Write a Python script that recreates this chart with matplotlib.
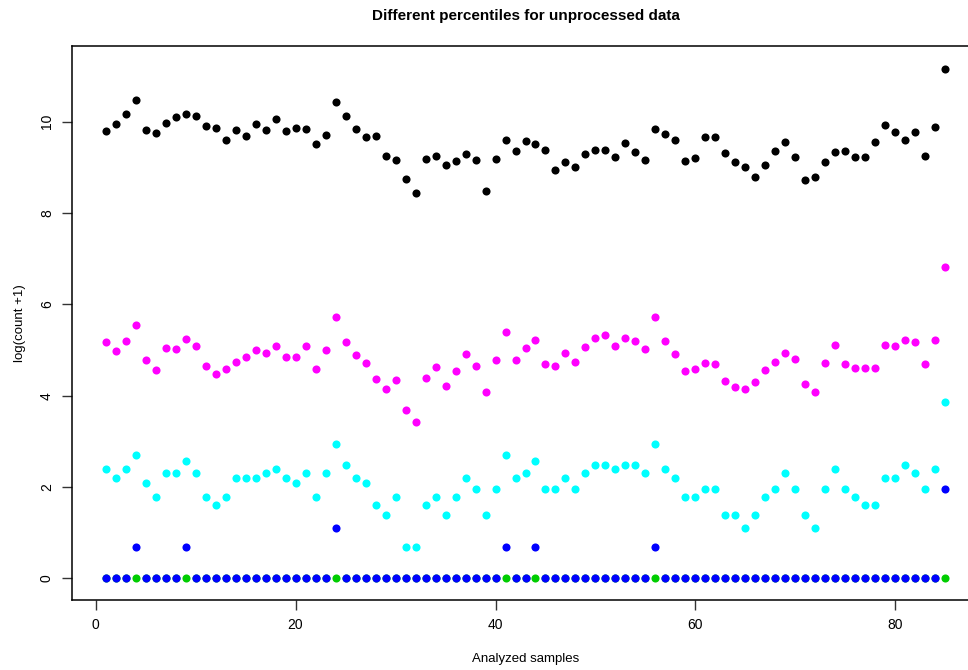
import numpy as np
import matplotlib
matplotlib.use("Agg")
import matplotlib.pyplot as plt

plt.rcParams['font.family'] = ['Liberation Sans', 'DejaVu Sans']

samples = np.arange(1, 86)

p_max = [9.80, 9.95, 10.17, 10.47, 9.82, 9.75, 9.97, 10.10, 10.17, 10.12,
         9.90, 9.87, 9.60, 9.83, 9.69, 9.95, 9.82, 10.06, 9.80, 9.87,
         9.85, 9.51, 9.72, 10.43, 10.12, 9.85, 9.66, 9.69, 9.25, 9.16,
         8.75, 8.44, 9.18, 9.25, 9.05, 9.14, 9.29, 9.16, 8.48, 9.18,
         9.60, 9.36, 9.58, 9.51, 9.39, 8.95, 9.12, 9.02, 9.29, 9.39,
         9.39, 9.23, 9.53, 9.34, 9.16, 9.85, 9.73, 9.61, 9.14, 9.21,
         9.67, 9.67, 9.31, 9.12, 9.01, 8.79, 9.05, 9.37, 9.56, 9.23,
         8.72, 8.79, 9.12, 9.34, 9.37, 9.23, 9.23, 9.56, 9.93, 9.77,
         9.60, 9.77, 9.25, 9.88, 11.16]

p_high = [5.18, 4.98, 5.20, 5.55, 4.79, 4.57, 5.05, 5.03, 5.25, 5.09,
          4.65, 4.47, 4.59, 4.74, 4.85, 5.00, 4.94, 5.09, 4.85, 4.85,
          5.09, 4.59, 5.00, 5.73, 5.18, 4.89, 4.72, 4.37, 4.15, 4.35,
          3.69, 3.43, 4.39, 4.63, 4.22, 4.54, 4.91, 4.65, 4.09, 4.79,
          5.40, 4.79, 5.05, 5.22, 4.70, 4.65, 4.94, 4.74, 5.07, 5.27,
          5.32, 5.09, 5.27, 5.20, 5.03, 5.73, 5.20, 4.92, 4.54, 4.59,
          4.72, 4.70, 4.33, 4.19, 4.15, 4.30, 4.57, 4.74, 4.94, 4.81,
          4.26, 4.09, 4.72, 5.11, 4.70, 4.61, 4.61, 4.61, 5.11, 5.09,
          5.22, 5.18, 4.70, 5.22, 6.82]

p_mid = [2.40, 2.20, 2.40, 2.71, 2.08, 1.79, 2.30, 2.30, 2.56, 2.30,
         1.79, 1.61, 1.79, 2.20, 2.20, 2.20, 2.30, 2.40, 2.20, 2.08,
         2.30, 1.79, 2.30, 2.94, 2.48, 2.20, 2.08, 1.61, 1.39, 1.79,
         0.69, 0.69, 1.61, 1.79, 1.39, 1.79, 2.20, 1.95, 1.39, 1.95,
         2.71, 2.20, 2.30, 2.56, 1.95, 1.95, 2.20, 1.95, 2.30, 2.48,
         2.48, 2.40, 2.48, 2.48, 2.30, 2.94, 2.40, 2.20, 1.79, 1.79,
         1.95, 1.95, 1.39, 1.39, 1.10, 1.39, 1.79, 1.95, 2.30, 1.95,
         1.39, 1.10, 1.95, 2.40, 1.95, 1.79, 1.61, 1.61, 2.20, 2.20,
         2.48, 2.30, 1.95, 2.40, 3.87]

p_low = [0.0] * 85
for i, v in [(4, 0.69), (9, 0.69), (24, 1.10), (41, 0.69), (44, 0.69),
             (56, 0.69), (85, 1.95)]:
    p_low[i - 1] = v

p_min = [0.0] * 85

fig = plt.figure(figsize=(9.68, 6.70), dpi=100)
# axes box runs off the right edge of the picture, like the original
ax = fig.add_axes([72 / 968, 70 / 670, 907 / 968, 554 / 670])

ms = 34
ax.scatter(samples, p_min, s=ms, color='#00CD00', linewidths=0, zorder=3)
ax.scatter(samples, p_low, s=ms, color='#0000FF', linewidths=0, zorder=4)
ax.scatter(samples, p_mid, s=ms, color='#00FFFF', linewidths=0, zorder=3)
ax.scatter(samples, p_high, s=ms, color='#FF00FF', linewidths=0, zorder=3)
ax.scatter(samples, p_max, s=ms, color='black', linewidths=0, zorder=3)

ax.set_xlim(-2.36, 88.36)
ax.set_ylim(-0.476, 11.66)
ax.set_xticks([0, 20, 40, 60, 80])
ax.set_yticks([0, 2, 4, 6, 8, 10])
ax.tick_params(direction='out', length=7, width=1, labelsize=10, pad=6,
               color='#333333')
for lab in ax.get_yticklabels():
    lab.set_rotation(90)
    lab.set_va('center')
for sp in ax.spines.values():
    sp.set_linewidth(1.1)
    sp.set_color('black')

ax.set_xlabel('Analyzed samples', fontsize=9.5, labelpad=15)
ax.set_ylabel('log(count +1)', fontsize=9.5, labelpad=10)
fig.text(0.5 * (72 + 979) / 968 - 0.0, 1 - 16 / 670,
         'Different percentiles for unprocessed data',
         ha='center', va='center', fontsize=11, fontweight='bold')

fig.savefig('out.png', dpi=100)
